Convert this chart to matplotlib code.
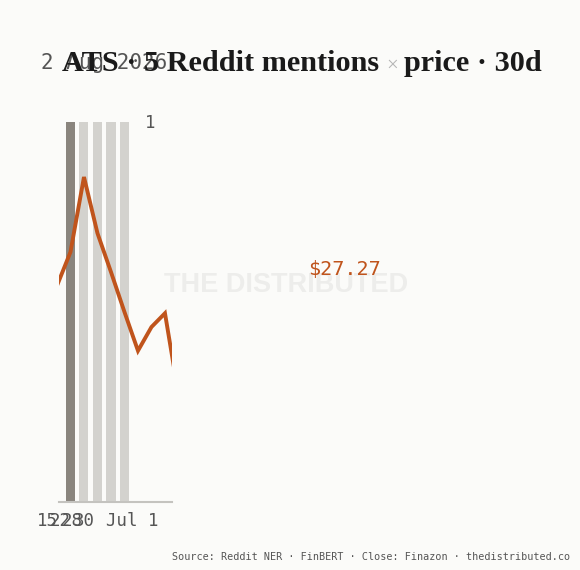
import matplotlib
matplotlib.use("Agg")
import matplotlib.pyplot as plt
import matplotlib.transforms as mtransforms

# data
days = [0, 1, 2, 3, 4, 5, 6, 7, 8, 9]
close = [28.14, 28.41, 29.01, 28.56, 28.25, 27.93, 27.62, 27.81, 27.92, 27.27]
mention_days = [1, 2, 3, 4, 5]
mentions = [1, 1, 1, 1, 1]
tick_days = [-0.74, 0.22, 1.1, 2.0, 5.6]
tick_labels = ["15", "22", "28", "30", "Jul 1"]
last_label = "$27.27"

BG = "#fbfbf9"
ORANGE = "#c0541c"
MONO = "DejaVu Sans Mono"

W, H = 580, 570
fig = plt.figure(figsize=(5.8, 5.7), dpi=100, facecolor=BG)

def fx(px):
    return px / W

def fy(py):
    return 1 - py / H

ax = fig.add_axes([fx(59), fy(502), fx(172) - fx(59), fy(122) - fy(502)])
ax.set_facecolor("none")
colors = ["#8a857e"] + ["#d3d2ce"] * (len(mention_days) - 1)
ax.bar(mention_days, mentions, width=0.67, color=colors, zorder=1)
ax.set_xlim(0.15, 8.52)
ax.set_ylim(0, 1)
for s in ax.spines.values():
    s.set_visible(False)
ax.set_xticks([])
ax.set_yticks([])
ax.axhline(0, color="#c4c3bf", lw=1.5, zorder=2, clip_on=False)

ax2 = ax.twinx()
ax2.plot(days, close, color=ORANGE, lw=2.8, solid_joinstyle="miter", zorder=3)
ax2.set_ylim(26.41, 29.45)
ax2.set_yticks([])
for s in ax2.spines.values():
    s.set_visible(False)

# x labels squeezed under the bars
trans = mtransforms.blended_transform_factory(ax.transData, fig.transFigure)
for d, lab in zip(tick_days, tick_labels):
    ax.text(d, fy(521), lab, transform=trans, ha="center", va="center",
            fontsize=12.5, family=MONO, color="#555555", clip_on=False)

fig.text(fx(150), fy(123), "1", ha="center", va="center", fontsize=12.5,
         family=MONO, color="#555555")

# watermark
fig.text(fx(286), fy(285), "THE DISTRIBUTED", ha="center", va="center",
         fontsize=19.5, family="Liberation Sans", weight="bold", color="#ededeb",
         zorder=0)

fig.text(fx(344), fy(269), last_label, ha="center", va="center", fontsize=14.5,
         family=MONO, color=ORANGE)

# date and title
fig.text(fx(41), fy(63), "2 Aug 2026", ha="left", va="center", fontsize=15,
         family=MONO, color="#555555")

renderer = fig.canvas.get_renderer()
parts = [("ATS · 5 Reddit mentions ", "#1a1a1a", 21.8, "bold"),
         ("× ", "#b5b5b5", 15, "normal"),
         ("price · 30d", "#1a1a1a", 21.8, "bold")]
x = fx(62)
for txt, col, size, wt in parts:
    t = fig.text(x, fy(71), txt, ha="left", va="baseline", fontsize=size,
                 family="Liberation Serif", weight=wt, color=col)
    bb = t.get_window_extent(renderer)
    x += bb.width / W

fig.text(fx(570), fy(557), "Source: Reddit NER · FinBERT · Close: Finazon · thedistributed.co",
         ha="right", va="center", fontsize=7.3, family=MONO, color="#555555")

fig.savefig("out.png", dpi=100, facecolor=BG)
